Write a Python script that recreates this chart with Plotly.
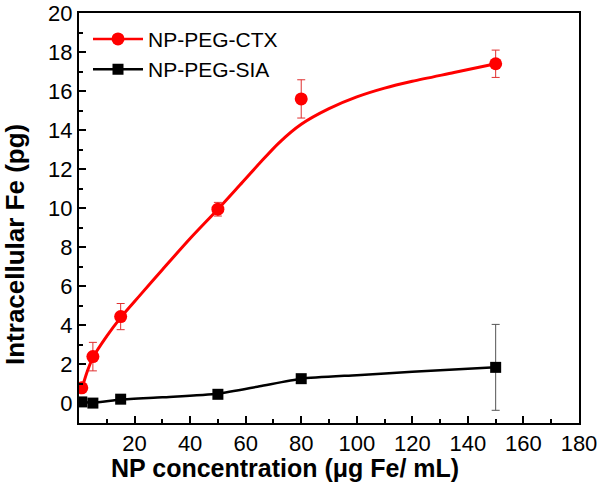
import plotly.graph_objects as go

# CTX measured points
ctx_x = [1, 5, 15, 50, 80, 150]
ctx_y = [0.8, 2.4, 4.45, 9.95, 15.6, 17.4]
ctx_err = [0.0, 0.73, 0.67, 0.35, 0.98, 0.7]

# CTX fitted curve
fit_x = [1, 3, 5, 10, 15, 22, 30, 40, 50, 58, 65, 72, 80, 90, 100, 110, 120, 135, 150]
fit_y = [0.75, 1.65, 2.35, 3.45, 4.4, 5.55, 6.85, 8.45, 9.95, 11.2, 12.3, 13.35, 14.3, 15.1, 15.7, 16.15, 16.5, 16.95, 17.4]

# SIA points
sia_x = [1, 5, 15, 50, 80, 150]
sia_y = [0.08, 0.02, 0.22, 0.47, 1.27, 1.85]
sia_err = [0.0, 0.0, 0.0, 0.0, 0.0, 2.2]

# SIA smooth line
sia_fit_x = [1, 5, 15, 30, 50, 65, 80, 100, 120, 150]
sia_fit_y = [0.08, 0.04, 0.2, 0.32, 0.5, 0.88, 1.27, 1.45, 1.62, 1.85]

x_ticks = [20, 40, 60, 80, 100, 120, 140, 160, 180]

RED = "#ff0000"
FONT = "Arial, Liberation Sans, sans-serif"
fig = go.Figure()

fig.add_trace(go.Scatter(x=fit_x, y=fit_y, mode="lines", line=dict(color=RED, width=3, shape="spline", smoothing=0.8),
                         showlegend=False, hoverinfo="skip"))
fig.add_trace(go.Scatter(x=sia_fit_x, y=sia_fit_y, mode="lines", line=dict(color="black", width=2.5, shape="spline", smoothing=0.6),
                         showlegend=False, hoverinfo="skip"))
fig.add_trace(go.Scatter(x=ctx_x, y=ctx_y, mode="markers",
                         marker=dict(color=RED, size=13, symbol="circle"),
                         error_y=dict(type="data", array=ctx_err, color="#e03030", thickness=1, width=4),
                         showlegend=False))
fig.add_trace(go.Scatter(x=sia_x, y=sia_y, mode="markers",
                         marker=dict(color="black", size=11, symbol="square"),
                         error_y=dict(type="data", array=sia_err, color="#555555", thickness=1, width=4),
                         showlegend=False))
# legend entries
fig.add_trace(go.Scatter(x=[None], y=[None], mode="lines+markers", name="NP-PEG-CTX",
                         line=dict(color=RED, width=2.5), marker=dict(color=RED, size=13, symbol="circle")))
fig.add_trace(go.Scatter(x=[None], y=[None], mode="lines+markers", name="NP-PEG-SIA",
                         line=dict(color="black", width=2.5), marker=dict(color="black", size=11, symbol="square")))

axis_common = dict(showline=True, linecolor="black", linewidth=2, mirror=True, ticks="inside",
                   ticklen=7, tickwidth=1.5, tickcolor="black", showgrid=False, zeroline=False,
                   ticklabeloverflow="allow",
                   tickfont=dict(family=FONT, size=22, color="black"))

fig.update_xaxes(range=[0, 180], tickvals=x_ticks,
                 minor=dict(dtick=10, ticks="inside", ticklen=4, tickcolor="black", tickwidth=1.5),
                 **axis_common)
fig.update_yaxes(range=[-1, 20], dtick=2, tick0=0,
                 minor=dict(dtick=1, ticks="inside", ticklen=4, tickcolor="black", tickwidth=1.5),
                 **axis_common)

fig.add_annotation(text="<b>NP concentration (μg Fe/ mL)</b>", xref="paper", yref="paper",
                   x=(285 - 79) / 500, y=-(468 - 423) / 410, xanchor="center", yanchor="middle",
                   showarrow=False, borderpad=0, font=dict(family=FONT, size=25, color="black"))
fig.add_annotation(text="<b>Intracellular Fe (pg)</b>", xref="paper", yref="paper",
                   x=(15 - 79) / 500, y=(423 - 245) / 410, xanchor="center", yanchor="middle",
                   textangle=-90, showarrow=False, borderpad=0, font=dict(family=FONT, size=26, color="black"))

fig.update_layout(width=600, height=484, margin=dict(l=79, r=21, t=13, b=61, autoexpand=False),
                  plot_bgcolor="white", paper_bgcolor="white",
                  legend=dict(x=0.018, y=0.986, xanchor="left", yanchor="top", bgcolor="rgba(0,0,0,0)",
                              font=dict(family=FONT, size=21, color="black"),
                              itemwidth=50, tracegroupgap=0))

# remove the page's default 8px body margin so the figure sits at the window's corner
fig.write_html("out.html", config={"displayModeBar": False},
               post_script="document.body.style.margin='0';document.body.style.overflow='hidden';")
